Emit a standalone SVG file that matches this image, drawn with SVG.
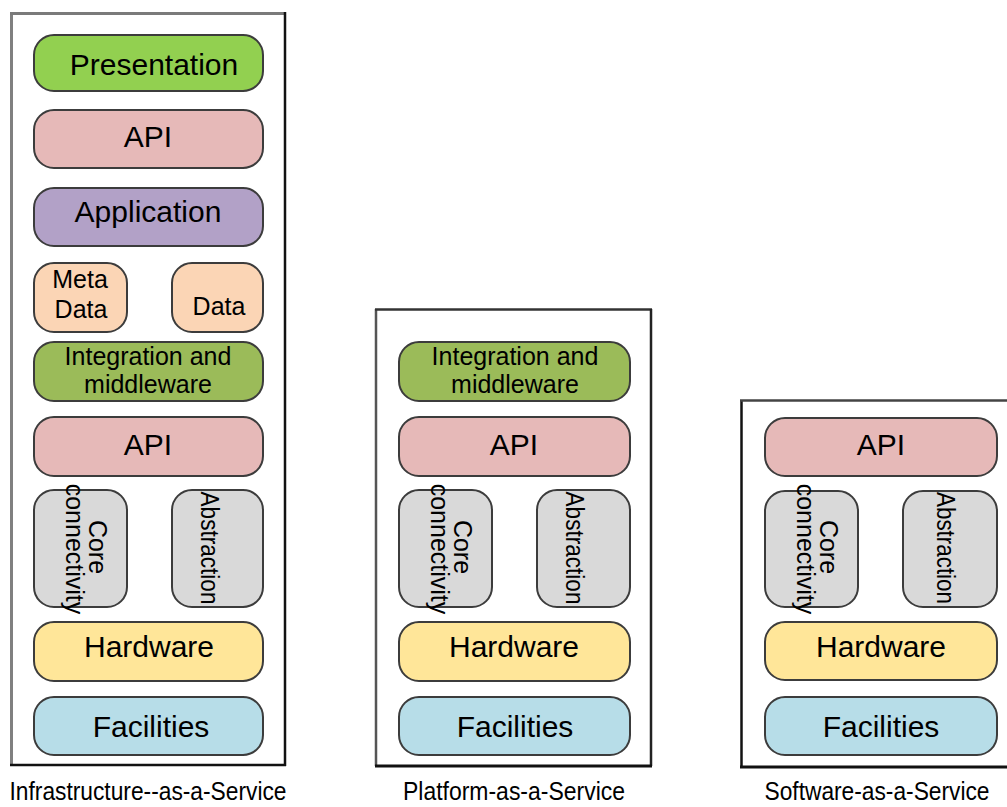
<svg xmlns="http://www.w3.org/2000/svg" width="1007" height="807" viewBox="0 0 1007 807">
<style>
.p{stroke:#3c3c3c;stroke-width:2}
.t{font-family:"Liberation Sans",Arial,sans-serif;font-size:30px;fill:#000;text-anchor:middle}
.s{font-family:"Liberation Sans",Arial,sans-serif;font-size:25px;fill:#000;text-anchor:middle}
.lb{font-family:"Liberation Sans",Arial,sans-serif;font-size:26px;fill:#000;text-anchor:middle}
.pres{fill:#92d050}.api{fill:#e6b9b8}.app{fill:#b2a1c7}.data{fill:#fbd5b5}.int{fill:#9bbb59}.grey{fill:#d9d9d9}.hw{fill:#ffe699}.fac{fill:#b7dde8}
</style>
<rect width="1007" height="807" fill="#fff"/>
<g id="iaas">
<line x1="11.5" y1="12" x2="11.5" y2="766" stroke="#808080" stroke-width="3"/>
<line x1="10" y1="13.5" x2="286" y2="13.5" stroke="#7a7a7a" stroke-width="3"/>
<line x1="285" y1="12" x2="285" y2="766" stroke="#111" stroke-width="2.5"/>
<line x1="10" y1="765" x2="286" y2="765" stroke="#111" stroke-width="2.5"/>
<g id="iaas-presentation"><rect class="p pres" x="34" y="35" width="229" height="56" rx="20"/><text class="t" x="154" y="75">Presentation</text></g>
<g id="iaas-api1"><rect class="p api" x="34" y="110" width="229" height="58" rx="20"/><text class="t" x="148" y="147">API</text></g>
<g id="iaas-application"><rect class="p app" x="34" y="188" width="229" height="58" rx="20"/><text class="t" x="148" y="222">Application</text></g>
<g id="iaas-metadata"><rect class="p data" x="34" y="263" width="93" height="69" rx="20"/><text class="s" x="80" y="288">Meta</text><text class="s" x="81" y="318">Data</text></g>
<g id="iaas-data"><rect class="p data" x="172" y="263" width="91" height="69" rx="20"/><text class="s" x="219" y="315">Data</text></g>
<g id="iaas-integration"><rect class="p int" x="34" y="342" width="229" height="59" rx="20"/><text class="s" x="148" y="365">Integration and</text><text class="s" x="148" y="393">middleware</text></g>
<g id="iaas-api2"><rect class="p api" x="34" y="417" width="229" height="59" rx="20"/><text class="t" x="148" y="455">API</text></g>
<g id="iaas-core"><rect class="p grey" x="34" y="490" width="93" height="117" rx="20"/><text class="s" transform="translate(89,547) rotate(90)">Core</text><text class="s" transform="translate(66,549) rotate(90)">connectivity</text></g>
<g id="iaas-abstraction"><rect class="p grey" x="172" y="490" width="91" height="117" rx="20"/><text class="s" transform="translate(201,548) rotate(90)" textLength="113" lengthAdjust="spacingAndGlyphs">Abstraction</text></g>
<g id="iaas-hardware"><rect class="p hw" x="34" y="622" width="229" height="59" rx="20"/><text class="t" x="149" y="657">Hardware</text></g>
<g id="iaas-facilities"><rect class="p fac" x="34" y="697" width="229" height="58" rx="20"/><text class="t" x="151" y="737">Facilities</text></g>
<text class="lb" x="148" y="800" textLength="277" lengthAdjust="spacingAndGlyphs">Infrastructure--as-a-Service</text>
</g>
<g id="paas">
<line x1="376" y1="309" x2="376" y2="766" stroke="#555" stroke-width="2.5"/>
<line x1="375" y1="309.5" x2="652" y2="309.5" stroke="#333" stroke-width="2.5"/>
<line x1="651" y1="309" x2="651" y2="766" stroke="#222" stroke-width="2.5"/>
<line x1="375" y1="766" x2="652" y2="766" stroke="#111" stroke-width="3"/>
<g id="paas-integration"><rect class="p int" x="399" y="342" width="231" height="59" rx="20"/><text class="s" x="515" y="365">Integration and</text><text class="s" x="515" y="393">middleware</text></g>
<g id="paas-api"><rect class="p api" x="399" y="417" width="231" height="59" rx="20"/><text class="t" x="514" y="455">API</text></g>
<g id="paas-core"><rect class="p grey" x="399" y="490" width="93" height="117" rx="20"/><text class="s" transform="translate(454,547) rotate(90)">Core</text><text class="s" transform="translate(431,549) rotate(90)">connectivity</text></g>
<g id="paas-abstraction"><rect class="p grey" x="537" y="490" width="93" height="117" rx="20"/><text class="s" transform="translate(566,548) rotate(90)" textLength="113" lengthAdjust="spacingAndGlyphs">Abstraction</text></g>
<g id="paas-hardware"><rect class="p hw" x="399" y="622" width="231" height="59" rx="20"/><text class="t" x="514" y="657">Hardware</text></g>
<g id="paas-facilities"><rect class="p fac" x="399" y="697" width="231" height="58" rx="20"/><text class="t" x="515" y="737">Facilities</text></g>
<text class="lb" x="514" y="800" textLength="222" lengthAdjust="spacingAndGlyphs">Platform-as-a-Service</text>
</g>
<g id="saas">
<line x1="741.5" y1="400" x2="741.5" y2="768" stroke="#111" stroke-width="2.5"/>
<line x1="740" y1="400.5" x2="1007" y2="400.5" stroke="#444" stroke-width="2.5"/>
<line x1="740" y1="767" x2="1007" y2="767" stroke="#111" stroke-width="3"/>
<g id="saas-api"><rect class="p api" x="765" y="418" width="232" height="58" rx="20"/><text class="t" x="881" y="455">API</text></g>
<g id="saas-core"><rect class="p grey" x="765" y="491" width="93" height="116" rx="20"/><text class="s" transform="translate(820,547) rotate(90)">Core</text><text class="s" transform="translate(797,549) rotate(90)">connectivity</text></g>
<g id="saas-abstraction"><rect class="p grey" x="903" y="491" width="94" height="116" rx="20"/><text class="s" transform="translate(937,548) rotate(90)" textLength="112" lengthAdjust="spacingAndGlyphs">Abstraction</text></g>
<g id="saas-hardware"><rect class="p hw" x="765" y="622" width="232" height="58" rx="20"/><text class="t" x="881" y="657">Hardware</text></g>
<g id="saas-facilities"><rect class="p fac" x="765" y="697" width="232" height="58" rx="20"/><text class="t" x="881" y="737">Facilities</text></g>
<text class="lb" x="877" y="800" textLength="225" lengthAdjust="spacingAndGlyphs">Software-as-a-Service</text>
</g>
<g id="connectors"/>
</svg>
